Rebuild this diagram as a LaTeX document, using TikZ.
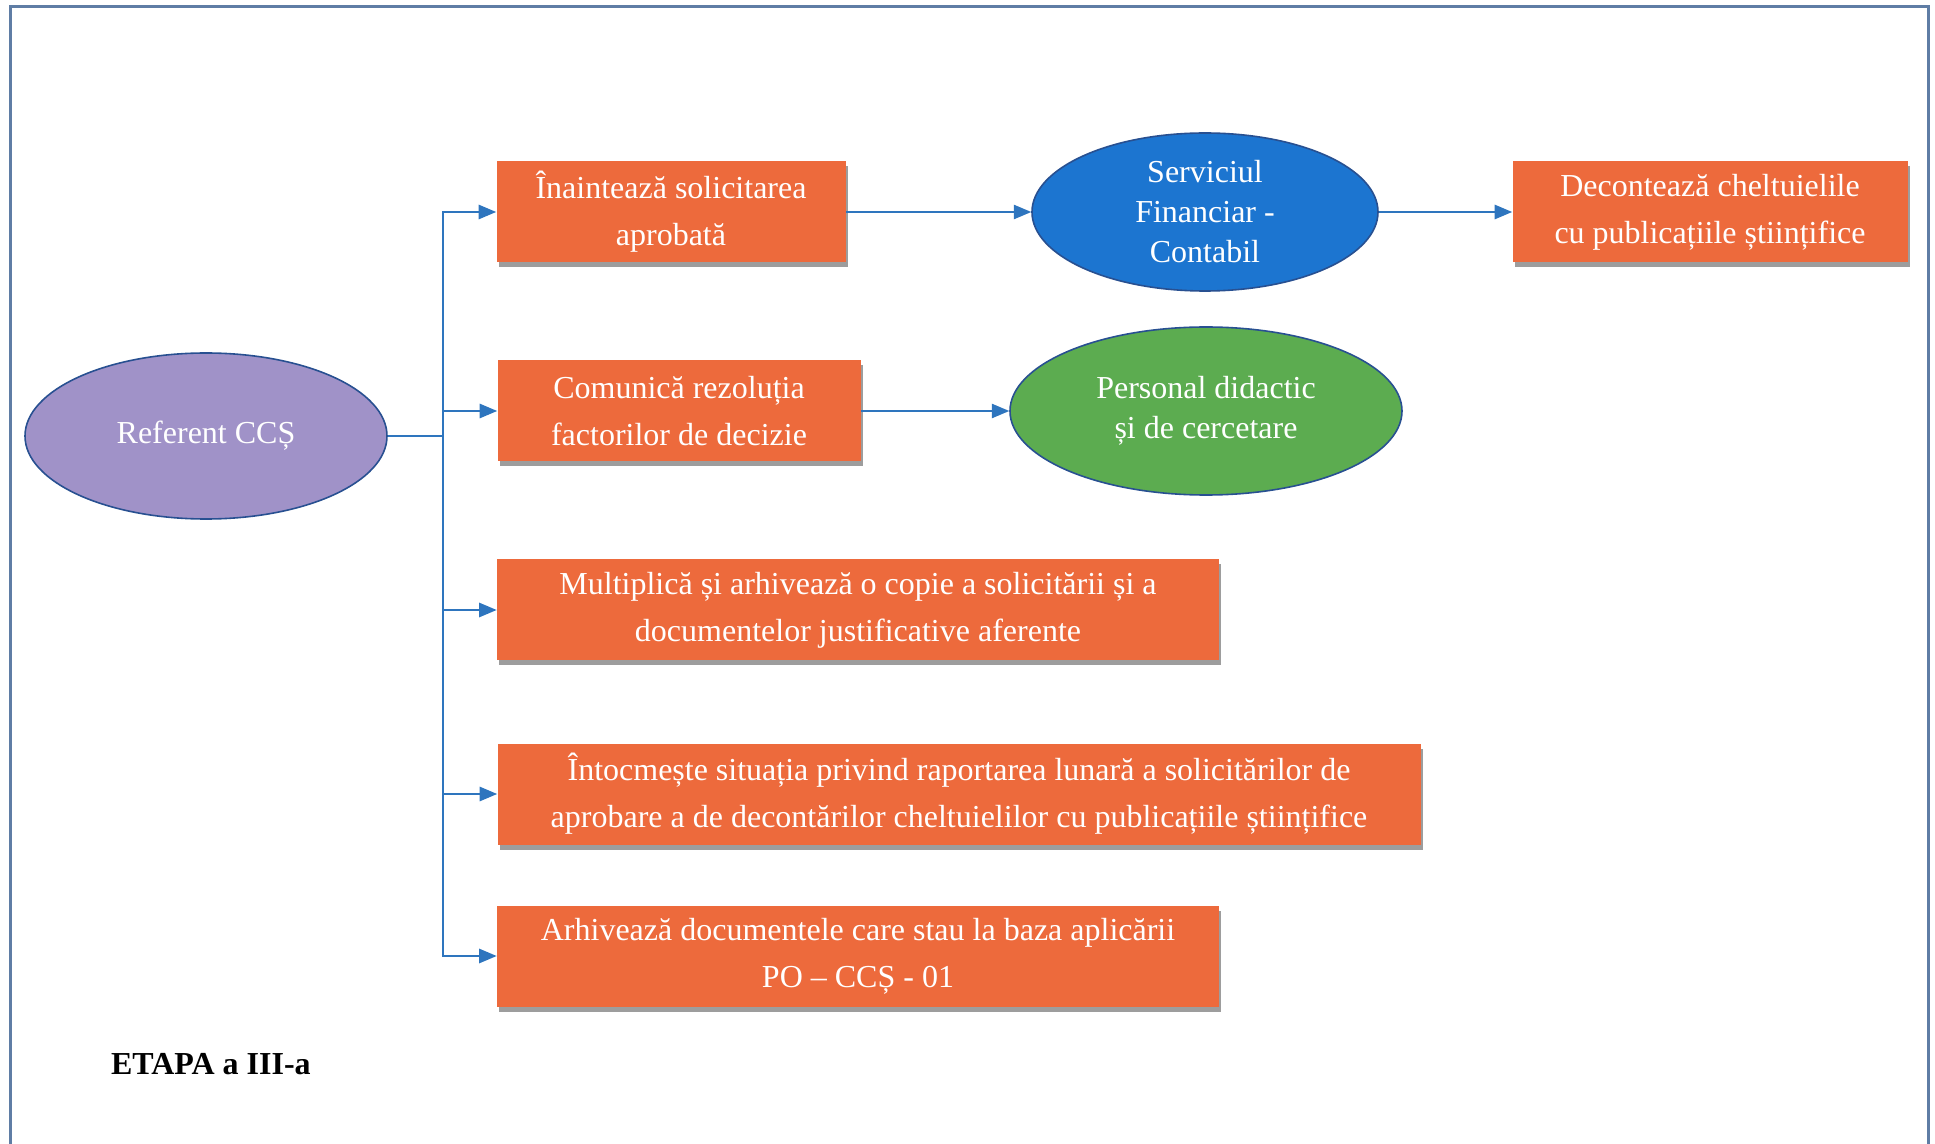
\documentclass[tikz,border=0pt]{standalone}
\usepackage{fontspec}
\setmainfont{Liberation Serif}
\usetikzlibrary{shapes,shadows,arrows,positioning}
\definecolor{boxorange}{RGB}{237,106,60}
\definecolor{ellpurple}{RGB}{160,146,200}
\definecolor{ellblue}{RGB}{28,117,208}
\definecolor{ellgreen}{RGB}{92,172,80}
\definecolor{ellborder}{RGB}{40,80,145}
\definecolor{linkblue}{RGB}{46,117,190}
\definecolor{framecol}{RGB}{95,125,165}
\tikzset{actbox/.style={rectangle,fill=boxorange,text=white,align=center,inner sep=2pt,
minimum height=50.5pt, font=\fontsize{16}{23.5}\selectfont,
drop shadow={shadow xshift=1pt,shadow yshift=-2.5pt,fill=black!70,opacity=0.55}},
role/.style={ellipse,draw=ellborder,thick,text=white,align=center,inner sep=0pt,
font=\fontsize{16}{20}\selectfont},
-/.style={color=linkblue, line width=1pt},
>={triangle 45}}

\begin{document}
\begin{tikzpicture}[x=0.5pt,y=-0.5pt]
  \useasboundingbox (0,0) rectangle (1935,1144);
  \draw [framecol, line width=1.5pt] (10,1144) -- (10,7) -- (1928,7) -- (1928,1144);

  % left role and the split point
  \node (referent) [role,fill=ellpurple,minimum width=181pt,minimum height=83pt] at (206,436) {Referent CCȘ};
  \coordinate (split) at (443,436);

  % the five tasks
  \node (fwd1) [actbox,minimum width=174.5pt] at (671,212) {Înaintează solicitarea\\aprobată};
  \node (comm1) [actbox,minimum width=181.5pt] at (679,411) {Comunică rezoluția\\factorilor de decizie};
  \node (mult1) [actbox,minimum width=361pt] at (858,610) {Multiplică și arhivează o copie a solicitării și a\\documentelor justificative aferente};
  \node (draft1) [actbox,minimum width=461.5pt] at (959,794) {Întocmește situația privind raportarea lunară a solicitărilor de\\aprobare a de decontărilor cheltuielilor cu publicațiile științifice};
  \node (arch1) [actbox,minimum width=361pt] at (858,956) {Arhivează documentele care stau la baza aplicării\\PO – CCȘ - 01};

  % receivers
  \node (finance) [role,fill=ellblue,minimum width=173pt,minimum height=79pt] at (1205,212) {Serviciul\\Financiar -\\Contabil};
  \node (staff) [role,fill=ellgreen,minimum width=196pt,minimum height=84pt] at (1206,411) {Personal didactic\\și de cercetare};
  \node (settle) [actbox,minimum width=197.5pt] at (1710,212) {Decontează cheltuielile\\cu publicațiile științifice};

  \node (stage) [anchor=west,font=\bfseries\fontsize{16}{18}\selectfont] at (104,1064) {ETAPA a III-a};

  \draw [-] (referent) -- (split);
  \draw [-,->] (split) |- (fwd1.west);
  \draw [-,->] (split) |- (comm1.west);
  \draw [-,->] (split) |- (mult1.west);
  \draw [-,->] (split) |- (draft1.west);
  \draw [-,->] (split) |- (arch1.west);

  \draw [-,->] (fwd1) -- (finance);
  \draw [-,->] (finance) -- (settle);
  \draw [-,->] (comm1) -- (staff);
\end{tikzpicture}
\end{document}
